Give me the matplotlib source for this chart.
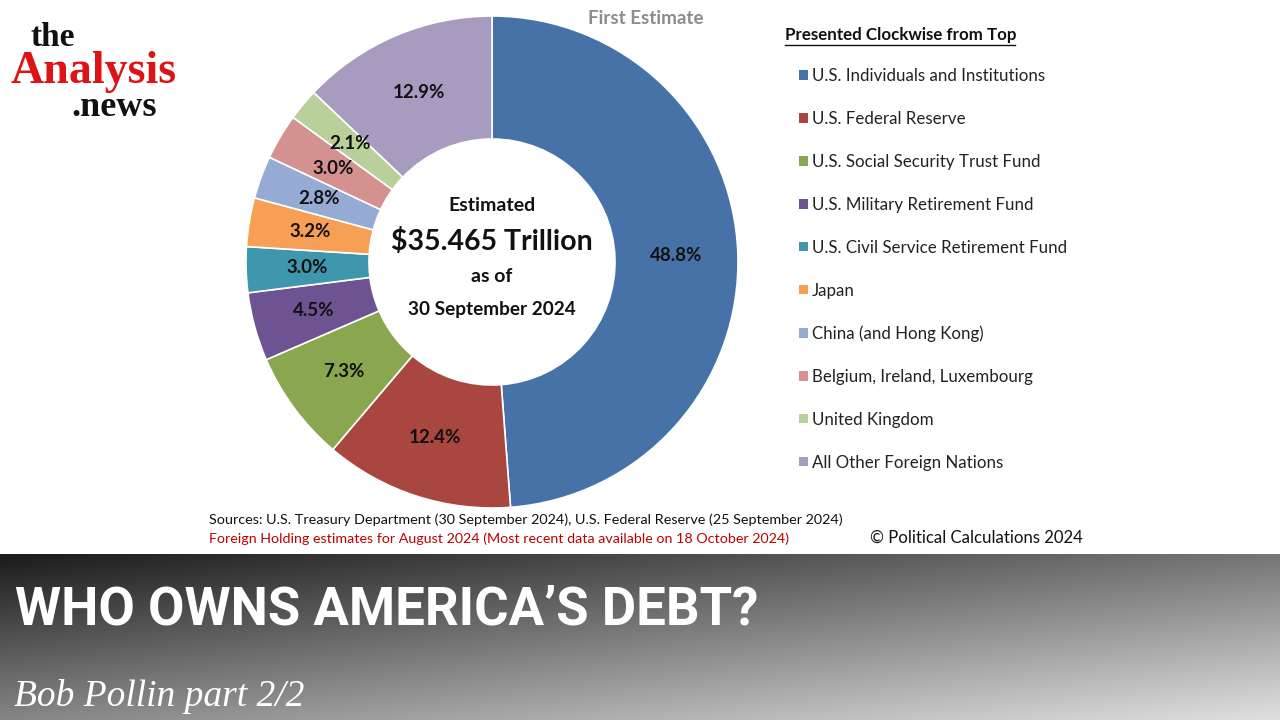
import matplotlib
matplotlib.use('Agg')
import matplotlib.pyplot as plt
from matplotlib.lines import Line2D
import numpy as np

# holders of US debt, clockwise from top
holders = ["U.S. Individuals and Institutions", "U.S. Federal Reserve",
           "U.S. Social Security Trust Fund", "U.S. Military Retirement Fund",
           "U.S. Civil Service Retirement Fund", "Japan", "China (and Hong Kong)",
           "Belgium, Ireland, Luxembourg", "United Kingdom", "All Other Foreign Nations"]
shares = [48.8, 12.4, 7.3, 4.5, 3.0, 3.2, 2.8, 3.0, 2.1, 12.9]
colors = ["#4672A8", "#A9463F", "#8AA64F", "#6D5391", "#3F97AE",
          "#F7A055", "#95ABD3", "#D4918F", "#B9D09A", "#A79BC0"]

W, H = 1280, 720
fig = plt.figure(figsize=(12.8, 7.2), dpi=100)
fig.patch.set_facecolor('white')
chart_font = 'Lato'

# donut: centre (492, 262) px, radius 246 px
cx, cy, r = 492, 262, 246
ax = fig.add_axes([(cx - r) / W, (H - cy - r) / H, 2 * r / W, 2 * r / H])
wedges, _, autotexts = ax.pie(shares, colors=colors, startangle=90, counterclock=False,
                              radius=1, autopct='%.1f%%', pctdistance=0.75,
                              wedgeprops=dict(width=0.5, edgecolor='white', linewidth=1.2),
                              textprops=dict(fontsize=13.5, fontweight='bold',
                                             family=chart_font, color='#111111'))
ax.set_xlim(-1, 1)
ax.set_ylim(-1, 1)
ax.axis('off')

# centre text
ax.text(0, 0.23, "Estimated", ha='center', va='center', fontsize=14, fontweight='bold',
        family=chart_font, color='#111111')
ax.text(0, 0.085, "$35.465 Trillion", ha='center', va='center', fontsize=20.5,
        fontweight='bold', family=chart_font, color='#111111')
ax.text(0, -0.06, "as of", ha='center', va='center', fontsize=14, fontweight='bold',
        family=chart_font, color='#111111')
ax.text(0, -0.195, "30 September 2024", ha='center', va='center', fontsize=13.7,
        fontweight='bold', family=chart_font, color='#111111')

fig.text(646 / W, 1 - 18 / H, "First Estimate", ha='center', va='center', fontsize=13.5,
         fontweight='bold', family=chart_font, color='#8C8C8C')

# legend
fig.text(785 / W, 1 - 35 / H, "Presented Clockwise from Top", ha='left', va='center',
         fontsize=12.2, fontweight='bold', family=chart_font, color='#111111')
fig.add_artist(Line2D([785 / W, 1015 / W], [1 - 45 / H, 1 - 45 / H], color='#111111',
                      linewidth=1, transform=fig.transFigure))
leg = ax.legend(wedges, holders, loc='upper left', bbox_to_anchor=(784 / W, 1 - 53 / H),
                bbox_transform=fig.transFigure, frameon=False, handlelength=0.5,
                handleheight=0.5, handletextpad=0.25, labelspacing=1.585,
                prop=dict(family=chart_font, size=12.2))
for t in leg.get_texts():
    t.set_color('#222222')
for h in leg.legend_handles:
    h.set_edgecolor('none')

# sources
fig.text(209 / W, 1 - 520 / H,
         "Sources: U.S. Treasury Department (30 September 2024), U.S. Federal Reserve (25 September 2024)",
         ha='left', va='center', fontsize=10.4, family=chart_font, color='#111111')
fig.text(209 / W, 1 - 539 / H,
         "Foreign Holding estimates for August 2024 (Most recent data available on 18 October 2024)",
         ha='left', va='center', fontsize=10.3, family=chart_font, color='#C00000')
fig.text(870 / W, 1 - 538 / H, "\u00a9 Political Calculations 2024", ha='left', va='center',
         fontsize=12.1, family=chart_font, color='#111111')

# logo
fig.text(53 / W, 1 - 37 / H, "the", ha='center', va='center', fontsize=24,
         fontweight='bold', family='Liberation Serif', color='#111111')
fig.text(94 / W, 1 - 72 / H, "Analysis", ha='center', va='center', fontsize=33,
         fontweight='bold', family='Liberation Serif', color='#DD1318')
fig.text(114 / W, 1 - 108 / H, ".news", ha='center', va='center', fontsize=26,
         fontweight='bold', family='Liberation Serif', color='#111111')

# bottom banner with diagonal grey gradient
bx = fig.add_axes([0, 0, 1, 166 / H])
xs = np.linspace(0, 1, 256)
ys = np.linspace(0, 1, 64)
XX, YY = np.meshgrid(xs, ys)
grad = np.clip(28 + 90 * XX + 105 * YY, 0, 225) / 255.0
bx.imshow(grad, cmap='gray', vmin=0, vmax=1, aspect='auto', extent=[0, 1, 0, 1],
          origin='upper', interpolation='bilinear')
bx.axis('off')

fig.text(15 / W, 1 - 610 / H, "WHO OWNS AMERICA\u2019S DEBT?", ha='left', va='center',
         fontsize=38, fontweight='bold', family='Roboto', color='white')
fig.text(14 / W, 1 - 697 / H, "Bob Pollin part 2/2", ha='left', va='center',
         fontsize=27, fontstyle='italic', family='Liberation Serif', color='white')

fig.savefig("out.png", dpi=100)
